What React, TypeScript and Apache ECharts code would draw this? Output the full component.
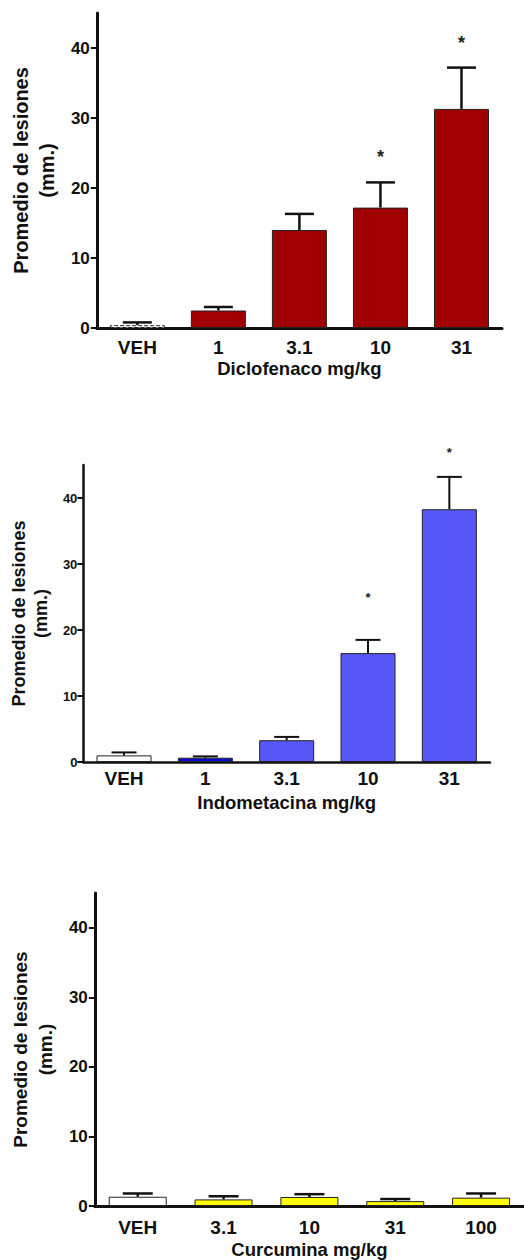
import React, { useEffect, useRef } from "react";
import * as echarts from "echarts";

// ---- data ----
const diclofenacoCategories = ["VEH", "1", "3.1", "10", "31"];
const diclofenacoMeans = [0.4, 2.5, 14.0, 17.2, 31.3];
const diclofenacoErrors = [0.4, 0.5, 2.3, 3.6, 5.9];
const diclofenacoStars: [number, number][] = [[3, 24.7], [4, 41.0]];

const indometacinaCategories = ["VEH", "1", "3.1", "10", "31"];
const indometacinaMeans = [1.0, 0.65, 3.3, 16.5, 38.3];
const indometacinaErrors = [0.45, 0.2, 0.5, 2.0, 4.9];
const indometacinaStars: [number, number][] = [[3, 25.1], [4, 47.1]];

const curcuminaCategories = ["VEH", "3.1", "10", "31", "100"];
const curcuminaMeans = [1.33, 0.95, 1.3, 0.7, 1.2];
const curcuminaErrors = [0.47, 0.45, 0.4, 0.3, 0.6];
const curcuminaStars: [number, number][] = [];

const yTickValues = [0, 10, 20, 30, 40];
const yMax = 45;
const yAxisTitle = "Promedio de lesiones\n(mm.)";
const xTitles = ["Diclofenaco mg/kg", "Indometacina mg/kg", "Curcumina mg/kg"];

const FONT = "'Liberation Sans', Arial, Helvetica, sans-serif";

type Panel = {
  categories: string[];
  means: number[];
  errors: number[];
  stars: [number, number][];
  xTitle: string;
  colors: string[];
  vehBorderType: string;
  grid: { left: number; top: number; width: number; height: number };
  barWidth: number;
  capWidth: number;
  errLineWidth: number;
  axisLineWidth: number;
  yLabelSize: number;
  yLabelMargin: number;
  xLabelSize: number;
  xLabelMargin: number;
  xNameGap: number;
  yNameSize: number;
  yNameLineHeight: number;
  yNameGap: number;
  starSize: number;
};

const panels: Panel[] = [
  {
    categories: diclofenacoCategories,
    means: diclofenacoMeans,
    errors: diclofenacoErrors,
    stars: diclofenacoStars,
    xTitle: xTitles[0],
    colors: ["#ffffff", "#a00000", "#a00000", "#a00000", "#a00000"],
    vehBorderType: "dashed",
    grid: { left: 91, top: 13, width: 411, height: 315 },
    barWidth: 55,
    capWidth: 29,
    errLineWidth: 2.5,
    axisLineWidth: 3,
    yLabelSize: 17,
    yLabelMargin: 7,
    xLabelSize: 19,
    xLabelMargin: 10,
    xNameGap: 31,
    yNameSize: 20,
    yNameLineHeight: 26,
    yNameGap: 33,
    starSize: 18,
  },
  {
    categories: indometacinaCategories,
    means: indometacinaMeans,
    errors: indometacinaErrors,
    stars: indometacinaStars,
    xTitle: xTitles[1],
    colors: ["#ffffff", "#0a0ad2", "#5858f8", "#5858f8", "#5858f8"],
    vehBorderType: "solid",
    grid: { left: 74, top: 465, width: 416, height: 297 },
    barWidth: 55,
    capWidth: 25,
    errLineWidth: 2,
    axisLineWidth: 2.5,
    yLabelSize: 13,
    yLabelMargin: 6,
    xLabelSize: 19,
    xLabelMargin: 7,
    xNameGap: 31,
    yNameSize: 18,
    yNameLineHeight: 22,
    yNameGap: 26,
    starSize: 13,
  },
  {
    categories: curcuminaCategories,
    means: curcuminaMeans,
    errors: curcuminaErrors,
    stars: curcuminaStars,
    xTitle: xTitles[2],
    colors: ["#ffffff", "#ffff00", "#ffff00", "#ffff00", "#ffff00"],
    vehBorderType: "solid",
    grid: { left: 89, top: 893, width: 436, height: 315 },
    barWidth: 58,
    capWidth: 30,
    errLineWidth: 2.5,
    axisLineWidth: 3,
    yLabelSize: 17,
    yLabelMargin: 7,
    xLabelSize: 19,
    xLabelMargin: 12,
    xNameGap: 34,
    yNameSize: 19,
    yNameLineHeight: 25,
    yNameGap: 31,
    starSize: 18,
  },
];

function buildOption() {
  const grid: any[] = [];
  const xAxis: any[] = [];
  const yAxis: any[] = [];
  const series: any[] = [];

  panels.forEach((p, k) => {
    grid.push({ ...p.grid, containLabel: false });
    xAxis.push({
      type: "category",
      gridIndex: k,
      data: p.categories,
      boundaryGap: true,
      axisLine: { lineStyle: { color: "#111", width: p.axisLineWidth } },
      axisTick: { show: false },
      axisLabel: {
        color: "#111",
        fontFamily: FONT,
        fontWeight: "bold",
        fontSize: p.xLabelSize,
        margin: p.xLabelMargin,
        interval: 0,
      },
      name: p.xTitle,
      nameLocation: "middle",
      nameGap: p.xNameGap,
      nameTextStyle: { color: "#111", fontFamily: FONT, fontWeight: "bold", fontSize: 18.5 },
      splitLine: { show: false },
    });
    yAxis.push({
      type: "value",
      gridIndex: k,
      min: 0,
      max: yMax,
      interval: 10,
      axisLine: { show: true, lineStyle: { color: "#111", width: p.axisLineWidth } },
      axisTick: {
        show: true,
        length: 6,
        lineStyle: { color: "#111", width: 2 },
        customValues: yTickValues,
      },
      axisLabel: {
        color: "#111",
        fontFamily: FONT,
        fontWeight: "bold",
        fontSize: p.yLabelSize,
        margin: p.yLabelMargin,
        customValues: yTickValues,
      },
      splitLine: { show: false },
      name: yAxisTitle,
      nameLocation: "middle",
      nameRotate: 90,
      nameGap: p.yNameGap,
      nameTextStyle: {
        color: "#111",
        fontFamily: FONT,
        fontWeight: "bold",
        fontSize: p.yNameSize,
        lineHeight: p.yNameLineHeight,
        align: "center",
      },
    });

    series.push({
      type: "bar",
      xAxisIndex: k,
      yAxisIndex: k,
      barWidth: p.barWidth,
      data: p.means.map((v, i) => ({
        value: v,
        itemStyle: {
          color: p.colors[i],
          borderColor: "#222",
          borderWidth: 1,
          borderType: i === 0 ? p.vehBorderType : "solid",
        },
      })),
    });

    const cap = p.capWidth;
    const lw = p.errLineWidth;
    series.push({
      type: "custom",
      xAxisIndex: k,
      yAxisIndex: k,
      clip: false,
      data: p.means.map((v, i) => [i, v, p.errors[i]]),
      renderItem: (params: any, api: any) => {
        const i = api.value(0);
        const v = api.value(1);
        const e = api.value(2);
        const base = api.coord([i, v]);
        const top = api.coord([i, v + e]);
        return {
          type: "group",
          children: [
            {
              type: "line",
              shape: { x1: base[0], y1: base[1], x2: top[0], y2: top[1] },
              style: { stroke: "#111", lineWidth: lw },
            },
            {
              type: "line",
              shape: { x1: top[0] - cap / 2, y1: top[1], x2: top[0] + cap / 2, y2: top[1] },
              style: { stroke: "#111", lineWidth: lw },
            },
          ],
        };
      },
    });

    if (p.stars.length) {
      const fs = p.starSize;
      series.push({
        type: "custom",
        xAxisIndex: k,
        yAxisIndex: k,
        clip: false,
        data: p.stars,
        renderItem: (params: any, api: any) => {
          const pt = api.coord([api.value(0), api.value(1)]);
          return {
            type: "text",
            x: pt[0],
            y: pt[1] + fs * 0.12,
            style: {
              text: "*",
              fontSize: fs,
              fontFamily: FONT,
              fontWeight: "bold",
              fill: "#222",
              align: "center",
              verticalAlign: "middle",
            },
          };
        },
      });
    }
  });

  return {
    animation: false,
    backgroundColor: "#ffffff",
    grid,
    xAxis,
    yAxis,
    series,
  };
}

export default function App() {
  const ref = useRef<HTMLDivElement>(null);
  useEffect(() => {
    if (!ref.current) return;
    const chart = echarts.init(ref.current, undefined, { renderer: "svg" });
    chart.setOption(buildOption() as any);
    return () => chart.dispose();
  }, []);
  return (
    <div
      ref={ref}
      style={{ position: "absolute", left: 0, top: 0, width: 524, height: 1260, background: "#fff" }}
    />
  );
}
